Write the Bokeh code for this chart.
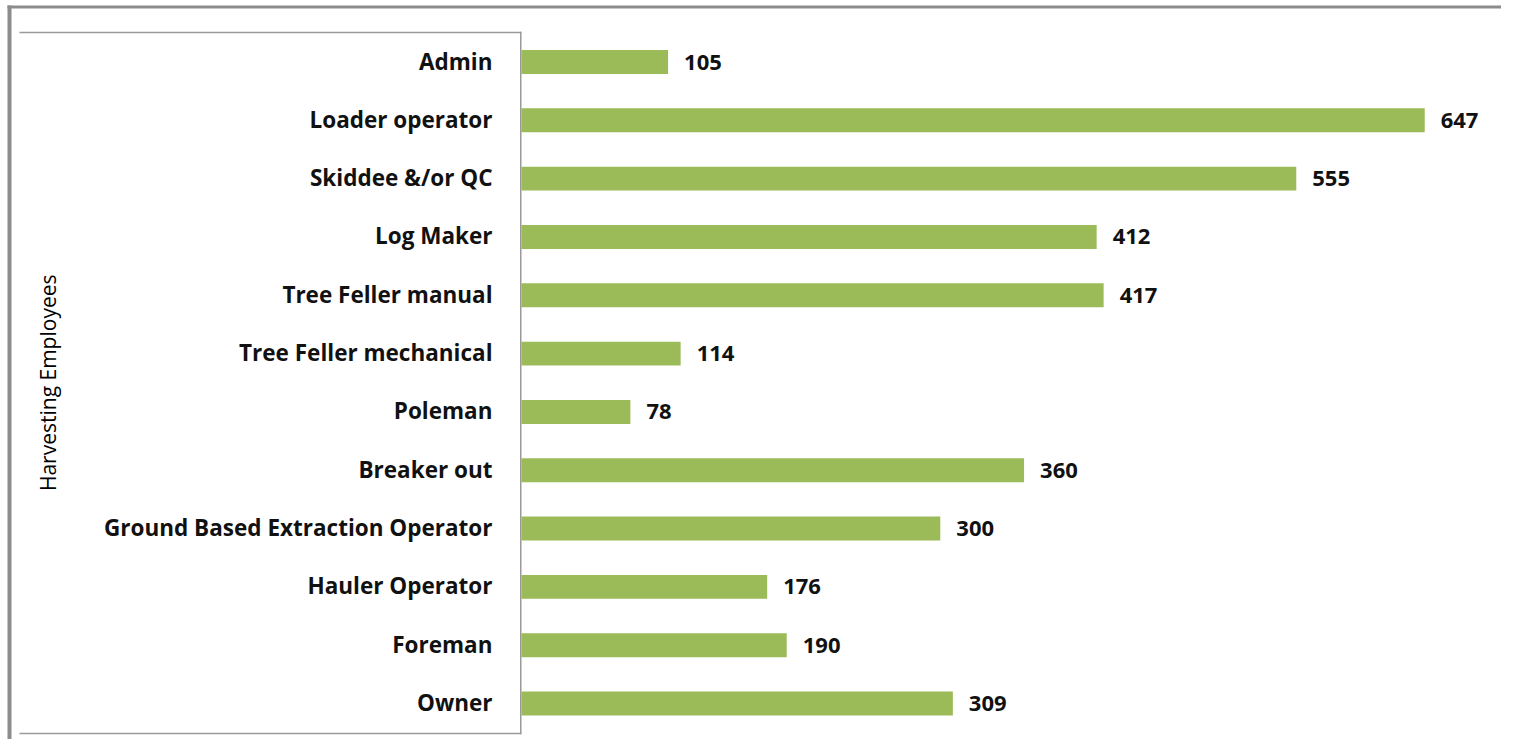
import math
from bokeh.plotting import figure
from bokeh.models import BoxAnnotation, Range1d, ColumnDataSource, Label
from bokeh.embed import file_html
from bokeh.resources import INLINE
from bokeh.core.properties import value

# ---- data ----
categories = ["Admin", "Loader operator", "Skiddee &/or QC", "Log Maker",
              "Tree Feller manual", "Tree Feller mechanical", "Poleman",
              "Breaker out", "Ground Based Extraction Operator",
              "Hauler Operator", "Foreman", "Owner"]
employees = [105, 647, 555, 412, 417, 114, 78, 360, 300, 176, 190, 309]
axis_title = "Harvesting Employees"

# ---- layout constants (pixels) ----
W, H = 1501, 739
X0_PX = 521          # pixel column of value 0
PX_PER_UNIT = 1.396  # horizontal scale
ROW_PX = 58.32       # row pitch
FIRST_ROW_PX = 61.5  # centre of first row

x_start = -X0_PX / PX_PER_UNIT
x_end = (W - X0_PX) / PX_PER_UNIT
y_top = -FIRST_ROW_PX / ROW_PX
y_bottom = y_top + H / ROW_PX


def px_x(px):
    return x_start + px / PX_PER_UNIT


def px_y(py):
    return y_top + py / ROW_PX


pos = list(range(len(categories)))
src = ColumnDataSource(dict(cat=categories, pos=pos, val=employees,
                            lbl=[str(v) for v in employees]))

FONT = "Open Sans"
p = figure(width=W, height=H,
           x_range=Range1d(x_start, x_end),
           y_range=Range1d(y_bottom, y_top),
           output_backend="svg", toolbar_location=None,
           min_border_left=0, min_border_right=0,
           min_border_top=0, min_border_bottom=0)

p.hbar(y="pos", left=0, right="val", height=0.41, source=src,
       fill_color="#9bbb59", line_color=None)
# value labels
p.text(x="val", y="pos", text="lbl", source=src, x_offset=16,
       text_baseline="middle", text_align="left",
       text_font=value(FONT), text_font_style="bold",
       text_font_size="22px", text_color="#111111")
# category labels
p.text(x=0, y="pos", text="cat", source=src, x_offset=-29, y_offset=-1,
       text_baseline="middle", text_align="right",
       text_font=value(FONT), text_font_style="bold",
       text_font_size="22.5px", text_color="#111111")

p.add_layout(Label(x=px_x(47.5), y=(pos[0] + pos[-1]) / 2, text=axis_title,
                   angle=math.pi / 2, text_align="center",
                   text_baseline="middle", text_font=FONT,
                   text_font_size="21px", text_color="#000000"))

p.axis.visible = False
p.grid.visible = False
p.outline_line_color = None
p.background_fill_color = "white"
p.border_fill_color = "white"

INNER = "#9a9a9a"
OUTER = "#8c8c8c"


def box(l, r, t, b, color):
    p.add_layout(BoxAnnotation(left=px_x(l), right=px_x(r),
                               top=px_y(t), bottom=px_y(b),
                               fill_color=color, fill_alpha=1,
                               line_color=None))


# inner plot-area box: top line, bottom line, axis line
box(19, X0_PX, 31.3, 32.7, INNER)
box(19, X0_PX, 732.3, 733.7, INNER)
box(X0_PX - 1.5, X0_PX, 31.3, 733.7, INNER)
# outer chart frame (left and top)
box(7, 11, 5, H, OUTER)
box(7, W, 5, 8, OUTER)

open("out.html", "w").write(file_html(p, INLINE))
